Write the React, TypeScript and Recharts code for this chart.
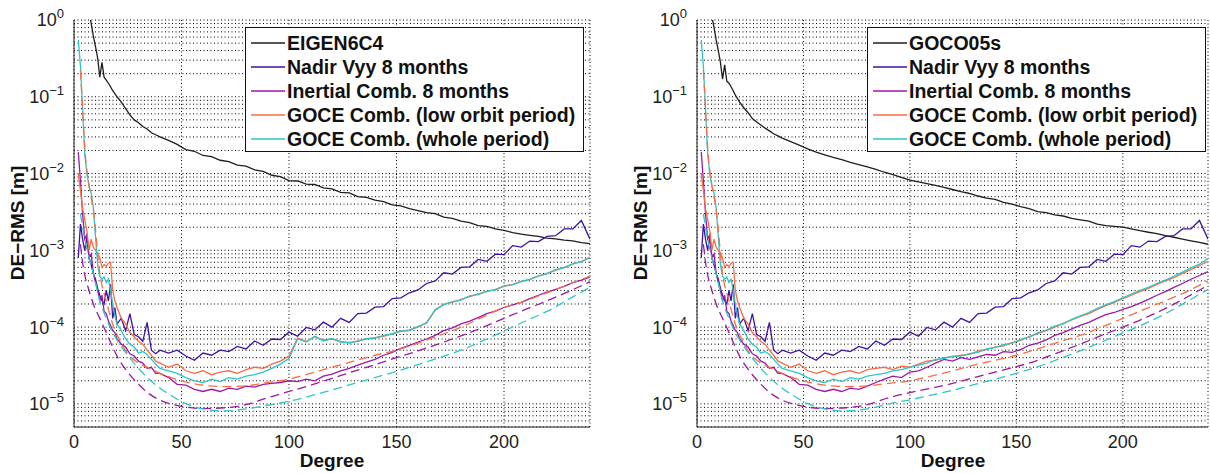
import { LineChart, Line, XAxis, YAxis, CartesianGrid, Legend } from "recharts";

const FONT = '"Liberation Sans", Arial, Helvetica, sans-serif';

// spherical harmonic degree sampling of the noisy (solid) curves
const degrees = [
  2, 3, 4, 5, 6, 7, 8, 9, 10, 11, 12, 13, 14, 15, 16, 17, 18, 19, 20,
  22, 24, 26, 28, 30, 32, 34, 36, 38, 40,
  44, 48, 52, 56, 60, 64, 68, 72, 76, 80,
  84, 88, 92, 96, 100, 104, 108, 112, 116, 120,
  124, 128, 132, 136, 140, 144, 148, 152, 156, 160,
  164, 168, 172, 176, 180, 184, 188, 192, 196, 200,
  204, 208, 212, 216, 220, 224, 228, 232, 236, 240,
];

// degree sampling of the smooth (dashed) curves
const dashDegrees = [
  3, 4, 5, 7, 9, 12, 15, 18, 20, 25, 30, 35, 40, 45, 50, 60, 70, 80,
  90, 100, 110, 120, 130, 140, 150, 160, 170, 180, 190, 200, 210, 220, 230, 240,
];

const eigen6c4 = [
  null, null, null, null, null, 1.25, 0.9, 0.62, 0.45, 0.32, 0.18, 0.28, 0.18, 0.165, 0.15, 0.135, 0.12, 0.11, 0.1,
  0.085, 0.07, 0.058, 0.05, 0.046, 0.041, 0.038, 0.034, 0.032, 0.03,
  0.027, 0.024, 0.0205, 0.0195, 0.0172, 0.0166, 0.0149, 0.0143, 0.0129, 0.0125,
  0.0112, 0.0107, 0.0095, 0.0091, 0.0081, 0.008, 0.0073, 0.0072, 0.0065, 0.0063,
  0.0057, 0.0056, 0.005, 0.0049, 0.0045, 0.0043, 0.0039, 0.0038, 0.0035, 0.0033,
  0.0031, 0.003, 0.0027, 0.0026, 0.0024, 0.0023, 0.0021, 0.00205, 0.0019, 0.00182,
  0.0017, 0.00163, 0.00157, 0.00152, 0.00144, 0.00141, 0.00136, 0.00133, 0.00126, 0.00122,
];

const goco05s = [
  null, null, null, null, null, 1.1, 0.8, 0.55, 0.4, 0.28, 0.17, 0.26, 0.16, 0.15, 0.135, 0.12, 0.105, 0.095, 0.085,
  0.072, 0.062, 0.052, 0.047, 0.043, 0.039, 0.036, 0.033, 0.031, 0.029,
  0.026, 0.0235, 0.021, 0.019, 0.0175, 0.0162, 0.0152, 0.014, 0.0131, 0.0122,
  0.0113, 0.0104, 0.0097, 0.0089, 0.0082, 0.0078, 0.0074, 0.007, 0.0066, 0.0062,
  0.0058, 0.0055, 0.0051, 0.0048, 0.0046, 0.0042, 0.004, 0.0037, 0.0035, 0.0032,
  0.0031, 0.0029, 0.0028, 0.0026, 0.0025, 0.0024, 0.0022, 0.0021, 0.00205, 0.002,
  0.0019, 0.0018, 0.00172, 0.00165, 0.00155, 0.00148, 0.0014, 0.00133, 0.00127, 0.0012,
];

const nadirVyy = [
  8e-4, 2.2e-3, 1.4e-3, 1.0e-3, 1.5e-3, 8e-4, 6.5e-4, 5e-4, 4.2e-4, 3.2e-4, 2.6e-4, 2.2e-4, 2.0e-4, 3.0e-4, 2.2e-4, 3.6e-4, 1.3e-4, 1.8e-4, 1.1e-4,
  1.3e-4, 9e-5, 1.5e-4, 8e-5, 7.5e-5, 6.5e-5, 1.15e-4, 5e-5, 4.5e-5, 5e-5,
  4.6e-5, 5.0e-5, 4.2e-5, 3.7e-5, 4.6e-5, 4.3e-5, 5.0e-5, 4.8e-5, 5.6e-5, 5.2e-5,
  6.6e-5, 5.8e-5, 7.0e-5, 6.9e-5, 8.6e-5, 7.6e-5, 9.9e-5, 9.2e-5, 1.16e-4, 1.0e-4,
  1.3e-4, 1.15e-4, 1.5e-4, 1.52e-4, 1.82e-4, 1.85e-4, 2.35e-4, 2.4e-4, 2.8e-4, 3.05e-4,
  3.7e-4, 4.0e-4, 5.1e-4, 4.9e-4, 6.0e-4, 6.1e-4, 7.6e-4, 7.2e-4, 8.9e-4, 8.8e-4,
  1.15e-3, 1.1e-3, 1.32e-3, 1.3e-3, 1.52e-3, 1.55e-3, 1.9e-3, 1.9e-3, 2.45e-3, 1.4e-3,
];

// degrees 2..80 are common to both panels, 84..240 differ
const inertialLow = [
  1.9e-2, 8e-3, 3e-3, 1.4e-3, 1.6e-3, 8e-4, 9e-4, 5e-4, 3.8e-4, 3e-4, 2.2e-4, 2.6e-4, 1.6e-4, 1.5e-4, 1.2e-4, 1.05e-4, 9e-5, 8.5e-5, 7e-5,
  6e-5, 5.5e-5, 4.5e-5, 4.2e-5, 3.6e-5, 3.4e-5, 2.9e-5, 3.0e-5, 2.5e-5, 2.5e-5,
  2.2e-5, 1.8e-5, 1.75e-5, 1.55e-5, 1.45e-5, 1.55e-5, 1.45e-5, 1.6e-5, 1.55e-5, 1.7e-5,
];
const inertialHighL = [
  1.65e-5, 1.8e-5, 1.85e-5, 1.9e-5, 2.0e-5, 1.95e-5, 2.1e-5, 2.0e-5, 2.3e-5, 2.45e-5,
  2.7e-5, 2.9e-5, 3.2e-5, 3.5e-5, 3.8e-5, 4.3e-5, 4.7e-5, 5.3e-5, 5.8e-5, 6.4e-5,
  7.0e-5, 7.8e-5, 9.0e-5, 9.8e-5, 1.1e-4, 1.2e-4, 1.33e-4, 1.5e-4, 1.62e-4, 1.8e-4,
  1.95e-4, 2.1e-4, 2.35e-4, 2.6e-4, 2.85e-4, 3.1e-4, 3.4e-4, 3.8e-4, 4.1e-4, 4.5e-4,
];
const inertialHighR = [
  1.9e-5, 2.1e-5, 2.3e-5, 2.2e-5, 2.6e-5, 2.7e-5, 3.0e-5, 3.4e-5, 3.8e-5, 3.6e-5,
  4.0e-5, 3.8e-5, 4.1e-5, 4.4e-5, 4.3e-5, 4.8e-5, 4.7e-5, 5.1e-5, 5.8e-5, 6.2e-5,
  6.8e-5, 7.8e-5, 8.5e-5, 9.5e-5, 1.05e-4, 1.15e-4, 1.3e-4, 1.45e-4, 1.55e-4, 1.7e-4,
  1.85e-4, 2.05e-4, 2.3e-4, 2.6e-4, 2.9e-4, 3.3e-4, 3.7e-4, 4.2e-4, 4.7e-4, 5.3e-4,
];

const lowOrbitLow = [
  1.0e-2, 6e-3, 3.5e-3, 2.5e-3, 1.8e-3, 1.0e-3, 1.4e-3, 1.1e-3, 1.0e-3, 9e-4, 8e-4, 6e-4, 6.5e-4, 6.2e-4, 6.8e-4, 7e-4, 3.0e-4, 2.2e-4, 1.8e-4,
  1.3e-4, 1.1e-4, 8.5e-5, 7.5e-5, 6.5e-5, 6.0e-5, 5.0e-5, 4.3e-5, 3.6e-5, 3.4e-5,
  3.0e-5, 3.3e-5, 2.7e-5, 2.5e-5, 2.7e-5, 2.4e-5, 2.6e-5, 2.7e-5, 2.5e-5, 2.8e-5,
];
const lowOrbitHighL = [
  3.0e-5, 2.9e-5, 3.3e-5, 3.6e-5, 4.2e-5, 7.2e-5, 6.5e-5, 7.5e-5, 6.8e-5, 7.0e-5,
  6.5e-5, 6.2e-5, 6.6e-5, 7.0e-5, 7.3e-5, 7.6e-5, 8.2e-5, 8.8e-5, 9.2e-5, 1.0e-4,
  1.15e-4, 1.65e-4, 2.0e-4, 2.1e-4, 2.3e-4, 2.5e-4, 2.7e-4, 2.9e-4, 3.1e-4, 3.4e-4,
  3.6e-4, 3.9e-4, 4.2e-4, 4.6e-4, 5.0e-4, 5.5e-4, 6.0e-4, 6.6e-4, 7.2e-4, 8.0e-4,
];
const lowOrbitHighR = [
  2.9e-5, 3.0e-5, 2.8e-5, 3.1e-5, 3.0e-5, 3.3e-5, 3.6e-5, 3.7e-5, 4.0e-5, 4.1e-5,
  4.3e-5, 4.4e-5, 4.9e-5, 5.1e-5, 5.5e-5, 5.7e-5, 6.3e-5, 6.7e-5, 7.5e-5, 8.2e-5,
  9.0e-5, 1.0e-4, 1.12e-4, 1.24e-4, 1.38e-4, 1.5e-4, 1.7e-4, 1.9e-4, 2.1e-4, 2.35e-4,
  2.6e-4, 2.9e-4, 3.2e-4, 3.6e-4, 4.0e-4, 4.4e-4, 5.0e-4, 5.6e-4, 6.3e-4, 7.2e-4,
];

const wholeLow = [
  0.55, 0.25, 0.07, 0.018, 0.01, 0.0068, 0.0055, 0.0036, 0.0015, 6.5e-4, 4.6e-4, 4.2e-4, 4.5e-4, 3.8e-4, 4.2e-4, 3.0e-4, 2.0e-4, 1.4e-4, 1.1e-4,
  9e-5, 7e-5, 6e-5, 5.5e-5, 4.6e-5, 4.8e-5, 4.4e-5, 3.8e-5, 3.3e-5, 2.9e-5,
  2.7e-5, 2.5e-5, 2.2e-5, 2.0e-5, 1.9e-5, 2.1e-5, 1.95e-5, 2.2e-5, 2.1e-5, 2.3e-5,
];
const wholeHighL = [
  2.4e-5, 2.6e-5, 2.9e-5, 3.3e-5, 3.9e-5, 7.0e-5, 6.4e-5, 7.6e-5, 6.6e-5, 7.1e-5,
  6.4e-5, 6.3e-5, 6.5e-5, 7.1e-5, 7.2e-5, 7.8e-5, 8.1e-5, 8.9e-5, 9.0e-5, 1.02e-4,
  1.12e-4, 1.7e-4, 1.95e-4, 2.15e-4, 2.25e-4, 2.55e-4, 2.65e-4, 2.95e-4, 3.05e-4, 3.45e-4,
  3.55e-4, 3.95e-4, 4.15e-4, 4.65e-4, 4.95e-4, 5.6e-4, 5.9e-4, 6.7e-4, 7.1e-4, 8.2e-4,
];
const wholeHighR = [
  2.4e-5, 2.5e-5, 2.7e-5, 2.8e-5, 3.0e-5, 3.2e-5, 3.4e-5, 3.8e-5, 3.9e-5, 4.2e-5,
  4.2e-5, 4.5e-5, 4.7e-5, 5.2e-5, 5.4e-5, 5.9e-5, 6.2e-5, 6.9e-5, 7.4e-5, 8.4e-5,
  9.1e-5, 1.03e-4, 1.1e-4, 1.26e-4, 1.4e-4, 1.55e-4, 1.75e-4, 1.95e-4, 2.15e-4, 2.4e-4,
  2.7e-4, 3.0e-4, 3.3e-4, 3.7e-4, 4.1e-4, 4.6e-4, 5.2e-4, 5.9e-4, 6.6e-4, 7.8e-4,
];

// formal errors (dashed), degrees 3..80 shared, 90..240 per panel
const inertialErrLow = [1.2e-3, 7e-4, 4.8e-4, 3e-4, 2e-4, 1.3e-4, 8.5e-5, 5.5e-5, 4.2e-5, 2.6e-5, 1.8e-5, 1.35e-5, 1.12e-5, 1.0e-5, 9.3e-6, 8.7e-6, 8.9e-6, 9.8e-6];
const inertialErrHighL = [1.2e-5, 1.45e-5, 1.75e-5, 2.15e-5, 2.65e-5, 3.25e-5, 4.0e-5, 4.9e-5, 6.1e-5, 7.7e-5, 9.9e-5, 1.3e-4, 1.7e-4, 2.2e-4, 2.9e-4, 3.9e-4];
const inertialErrHighR = [1.2e-5, 1.4e-5, 1.6e-5, 1.85e-5, 2.2e-5, 2.6e-5, 3.05e-5, 3.7e-5, 4.7e-5, 6.0e-5, 7.8e-5, 1.0e-4, 1.3e-4, 1.75e-4, 2.45e-4, 3.5e-4];

const lowOrbitErrLow = [0.22, 0.07, 0.022, 7e-3, 3.4e-3, 5e-4, 2.2e-4, 1.1e-4, 8e-5, 4.5e-5, 3.4e-5, 2.9e-5, 2.5e-5, 2.2e-5, 2.0e-5, 1.75e-5, 1.68e-5, 1.72e-5];
const lowOrbitErrHighL = [1.9e-5, 2.1e-5, 2.5e-5, 3.0e-5, 3.6e-5, 4.3e-5, 5.0e-5, 6.2e-5, 7.8e-5, 1.0e-4, 1.35e-4, 1.8e-4, 2.2e-4, 2.8e-4, 3.6e-4, 4.6e-4];
const lowOrbitErrHighR = [1.85e-5, 2.0e-5, 2.3e-5, 2.7e-5, 3.2e-5, 3.7e-5, 4.3e-5, 5.2e-5, 6.4e-5, 7.8e-5, 1.0e-4, 1.3e-4, 1.7e-4, 2.2e-4, 2.9e-4, 4.0e-4];

const wholeErrLow = [3e-3, 2e-3, 1.4e-3, 8e-4, 5e-4, 2.2e-4, 1.3e-4, 8.5e-5, 6.8e-5, 4.3e-5, 2.9e-5, 2.1e-5, 1.6e-5, 1.3e-5, 1.07e-5, 8.6e-6, 8.1e-6, 8.6e-6];
const wholeErrHighL = [9.6e-6, 1.08e-5, 1.27e-5, 1.52e-5, 1.83e-5, 2.2e-5, 2.65e-5, 3.25e-5, 4.0e-5, 5.0e-5, 6.6e-5, 8.9e-5, 1.2e-4, 1.6e-4, 2.3e-4, 3.3e-4];
const wholeErrHighR = [1.0e-5, 1.13e-5, 1.3e-5, 1.5e-5, 1.78e-5, 2.1e-5, 2.5e-5, 3.05e-5, 3.85e-5, 4.9e-5, 6.4e-5, 8.4e-5, 1.1e-4, 1.5e-4, 2.15e-4, 3.1e-4];

const xTicks = [0, 50, 100, 150, 200];
const decades = [1e-5, 1e-4, 1e-3, 1e-2, 1e-1, 1];
const Y_MIN = 5e-6;

// grid lines on every 1..9 x 10^k inside the axis range
const yGrid: number[] = [];
[1e-6, ...decades].forEach((d) => {
  for (let m = 1; m < 10; m++) {
    const v = d * m;
    if (v >= Y_MIN * 0.999 && v <= 1.0001) yGrid.push(v);
  }
});

const COLORS = {
  ref: "#1e1e1e",
  nadir: "#3f12a2",
  inertial: "#9a1aa5",
  lowOrbit: "#fb6c43",
  whole: "#2cc6c8",
};

const toPts = (xs: number[], ys: (number | null)[]) =>
  xs.map((deg, i) => ({ deg, v: ys[i] })).filter((p) => p.v != null);

const YTick = (p: any) => {
  const v = p.payload.value;
  const e = Math.round(Math.log10(v));
  if (Math.abs(Math.log10(v) - e) > 1e-6) return <g />;
  return (
    <text x={p.x - 2} y={p.y} dy="0.36em" textAnchor="end" fontFamily={FONT} fontSize={18} fill="#222">
      <tspan>10</tspan>
      <tspan dy={-8} fontSize={13}>{e < 0 ? "\u2212" + -e : String(e)}</tspan>
    </text>
  );
};

const LegendBox = ({ items }: { items: { name: string; color: string }[] }) => (
  <div
    style={{
      width: 339,
      height: 125,
      boxSizing: "border-box",
      border: "1px solid #111",
      background: "#fff",
      paddingTop: 3,
      fontFamily: FONT,
      fontWeight: "bold",
      fontSize: 19.5,
      color: "#111",
    }}
  >
    {items.map((it) => (
      <div key={it.name} style={{ display: "flex", alignItems: "center", height: 24 }}>
        <svg width={41} height={10} style={{ flex: "none" }}>
          <line x1={5} x2={39} y1={5} y2={5} stroke={it.color} strokeWidth={1.5} />
        </svg>
        <span style={{ whiteSpace: "nowrap", lineHeight: "24px" }}>{it.name}</span>
      </div>
    ))}
  </div>
);

type PanelProps = {
  left: number;
  marginLeft: number;
  marginRight: number;
  legendLeft: number;
  refName: string;
  refVals: (number | null)[];
  inertialHigh: number[];
  lowOrbitHigh: number[];
  wholeHigh: number[];
  inertialErrHigh: number[];
  lowOrbitErrHigh: number[];
  wholeErrHigh: number[];
};

function Panel(p: PanelProps) {
  const solid = [
    { key: "ref", pts: toPts(degrees, p.refVals), color: COLORS.ref },
    { key: "nadir", pts: toPts(degrees, nadirVyy), color: COLORS.nadir },
    { key: "inertial", pts: toPts(degrees, [...inertialLow, ...p.inertialHigh]), color: COLORS.inertial },
    { key: "lowOrbit", pts: toPts(degrees, [...lowOrbitLow, ...p.lowOrbitHigh]), color: COLORS.lowOrbit },
    { key: "whole", pts: toPts(degrees, [...wholeLow, ...p.wholeHigh]), color: COLORS.whole },
  ];
  const dashed = [
    { key: "inertialErr", pts: toPts(dashDegrees, [...inertialErrLow, ...p.inertialErrHigh]), color: COLORS.inertial },
    { key: "lowOrbitErr", pts: toPts(dashDegrees, [...lowOrbitErrLow, ...p.lowOrbitErrHigh]), color: COLORS.lowOrbit },
    { key: "wholeErr", pts: toPts(dashDegrees, [...wholeErrLow, ...p.wholeErrHigh]), color: COLORS.whole },
  ];
  const legendItems = [
    { name: p.refName, color: COLORS.ref },
    { name: "Nadir Vyy 8 months", color: COLORS.nadir },
    { name: "Inertial Comb. 8 months", color: COLORS.inertial },
    { name: "GOCE Comb. (low orbit period)", color: COLORS.lowOrbit },
    { name: "GOCE Comb. (whole period)", color: COLORS.whole },
  ];
  return (
    <div style={{ position: "absolute", left: p.left, top: 0 }}>
      <LineChart
        width={600}
        height={474}
        margin={{ top: 20, right: p.marginRight, bottom: 17, left: p.marginLeft }}
      >
        <CartesianGrid xAxisId="b" yAxisId="l" stroke="#000" strokeDasharray="1 2.5" />
        <XAxis
          xAxisId="b"
          dataKey="deg"
          type="number"
          domain={[0, 240]}
          allowDataOverflow
          ticks={xTicks}
          height={30}
          tickLine={false}
          axisLine={{ stroke: "#222" }}
          tick={{ fontSize: 18, fill: "#222", fontFamily: FONT }}
        />
        <XAxis xAxisId="t" orientation="top" dataKey="deg" type="number" domain={[0, 240]} height={0} tick={false} tickLine={false} axisLine={{ stroke: "#222" }} />
        <YAxis
          yAxisId="l"
          type="number"
          scale="log"
          domain={[Y_MIN, 1]}
          allowDataOverflow
          ticks={yGrid}
          interval={0}
          width={60}
          tickLine={false}
          axisLine={{ stroke: "#222" }}
          tick={YTick}
        />
        <YAxis yAxisId="r" orientation="right" type="number" scale="log" domain={[Y_MIN, 1]} allowDataOverflow width={0} tick={false} tickLine={false} axisLine={{ stroke: "#222" }} />
        {solid.map((s) => (
          <Line
            key={s.key}
            data={s.pts}
            dataKey="v"
            xAxisId="b"
            yAxisId="l"
            type="linear"
            stroke={s.color}
            strokeWidth={1.3}
            dot={false}
            activeDot={false}
            isAnimationActive={false}
          />
        ))}
        {dashed.map((s) => (
          <Line
            key={s.key}
            data={s.pts}
            dataKey="v"
            xAxisId="b"
            yAxisId="l"
            type="monotone"
            stroke={s.color}
            strokeWidth={1.3}
            strokeDasharray="9 5"
            dot={false}
            activeDot={false}
            isAnimationActive={false}
          />
        ))}
        <Legend
          layout="horizontal"
          verticalAlign="middle"
          align="center"
          wrapperStyle={{ left: p.legendLeft, top: 27, width: 339, height: 125 }}
          content={() => <LegendBox items={legendItems} />}
        />
      </LineChart>
    </div>
  );
}

const axisLabel = {
  position: "absolute" as const,
  fontFamily: FONT,
  fontWeight: "bold" as const,
  fontSize: 19,
  color: "#111",
  whiteSpace: "nowrap" as const,
};

export default function App() {
  return (
    <div style={{ position: "absolute", left: 0, top: 0, width: 1210, height: 474, background: "#fff" }}>
      <Panel
        left={0}
        marginLeft={14}
        marginRight={10}
        legendLeft={245}
        refName="EIGEN6C4"
        refVals={eigen6c4}
        inertialHigh={inertialHighL}
        lowOrbitHigh={lowOrbitHighL}
        wholeHigh={wholeHighL}
        inertialErrHigh={inertialErrHighL}
        lowOrbitErrHigh={lowOrbitErrHighL}
        wholeErrHigh={wholeErrHighL}
      />
      <Panel
        left={610}
        marginLeft={27}
        marginRight={2}
        legendLeft={257}
        refName="GOCO05s"
        refVals={goco05s}
        inertialHigh={inertialHighR}
        lowOrbitHigh={lowOrbitHighR}
        wholeHigh={wholeHighR}
        inertialErrHigh={inertialErrHighR}
        lowOrbitErrHigh={lowOrbitErrHighR}
        wholeErrHigh={wholeErrHighR}
      />
      <div style={{ ...axisLabel, left: 18, top: 223, transform: "translate(-50%, -50%) rotate(-90deg)" }}>DE−RMS [m]</div>
      <div style={{ ...axisLabel, left: 641, top: 223, transform: "translate(-50%, -50%) rotate(-90deg)" }}>DE−RMS [m]</div>
      <div style={{ ...axisLabel, left: 332, top: 461, transform: "translate(-50%, -50%)" }}>Degree</div>
      <div style={{ ...axisLabel, left: 953, top: 461, transform: "translate(-50%, -50%)" }}>Degree</div>
    </div>
  );
}
